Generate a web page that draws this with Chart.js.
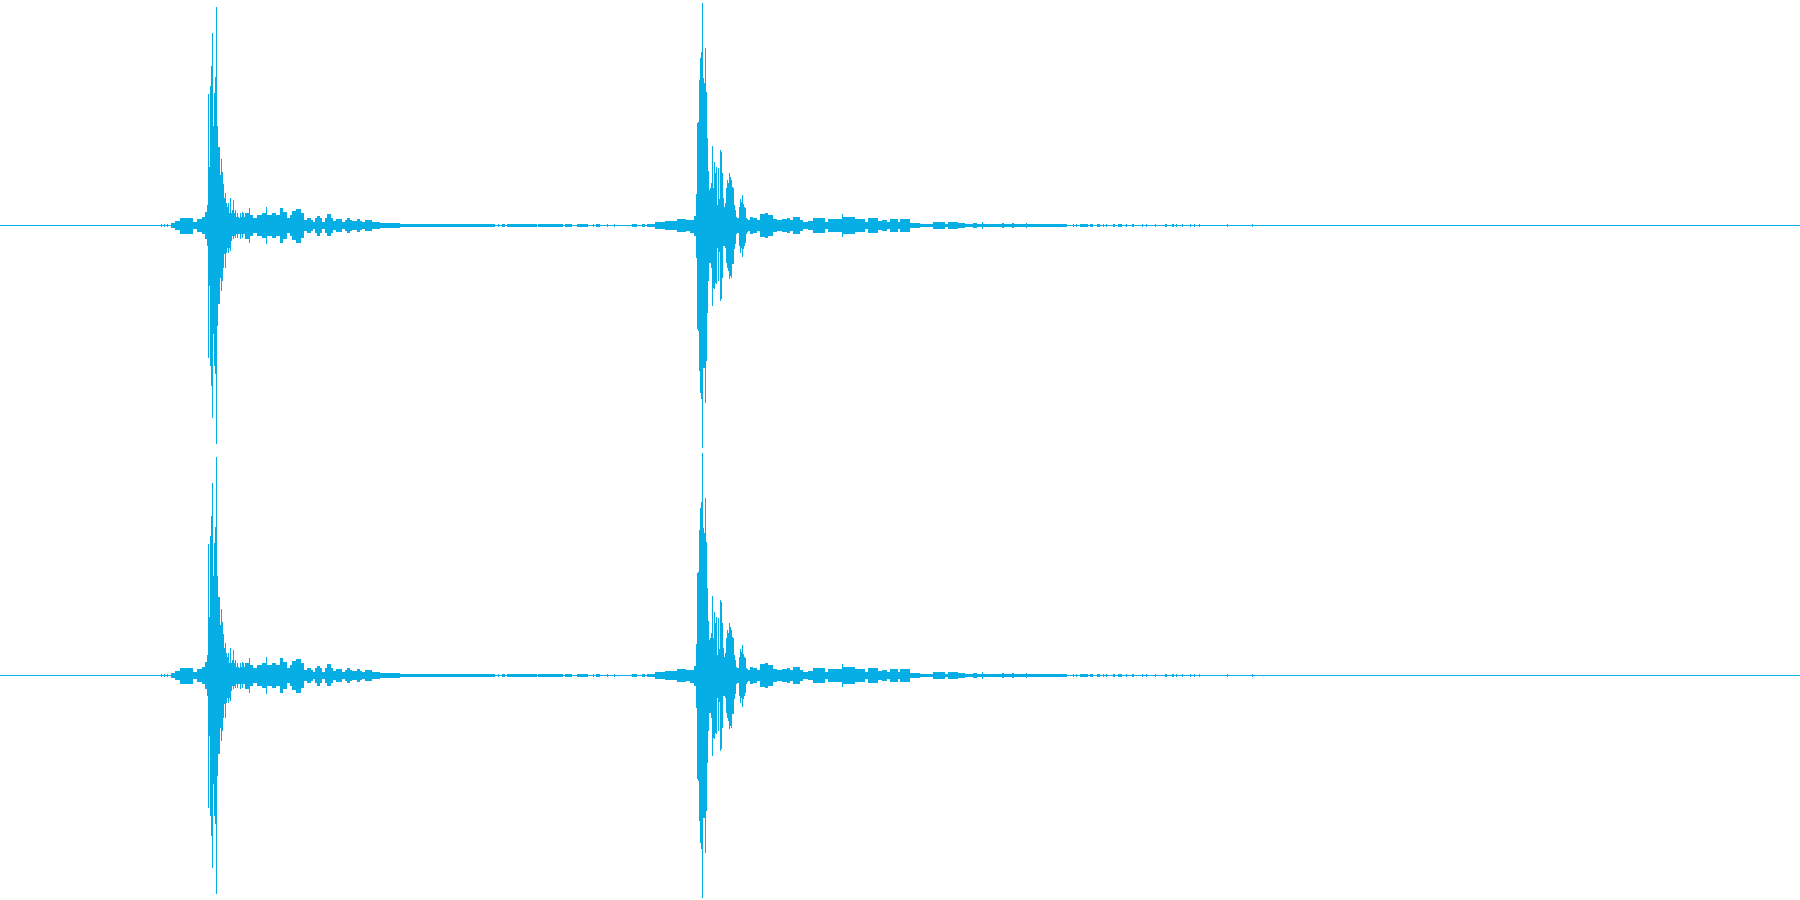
<!DOCTYPE html>
<html>
<head>
<meta charset="utf-8">
<script src="https://cdn.jsdelivr.net/npm/chart.js@4.4.1/dist/chart.umd.min.js"></script>
<style>
  html, body { margin: 0; padding: 0; background: #ffffff; }
  .channel { position: relative; width: 1800px; height: 450px; }
</style>
</head>
<body>
<div class="channel"><canvas id="chanLeft"></canvas></div>
<div class="channel"><canvas id="chanRight"></canvas></div>
<script>
// waveform envelope
// blockX = where a level starts (it holds until the next blockX)
// peakHi / peakLo = positive / negative peak, % of full scale
const blockX = [
  0, 161, 162, 164, 165, 167, 168, 171, 175, 180, 193, 197, 202, 205, 207,
  208, 209, 210, 211, 212, 213, 214, 215, 216, 217, 218, 219, 220, 221,
  222, 223, 224, 225, 226, 227, 228, 229, 230, 231, 232, 233, 234, 235,
  236, 237, 238, 239, 240, 241, 242, 243, 244, 245, 249, 250, 253, 257,
  262, 266, 267, 272, 276, 280, 283, 287, 290, 292, 296, 301, 304, 307,
  311, 313, 315, 317, 320, 322, 325, 327, 331, 333, 336, 342, 345, 347,
  350, 352, 357, 360, 362, 365, 372, 380, 400,
  440, 495, 498, 499, 502, 505, 507, 537, 538, 563, 565, 572, 577, 588,
  593, 594, 596, 600, 607, 608, 614, 615, 632, 637, 642, 645, 647, 655,
  665, 677, 686, 690, 694, 696,
  697, 698, 699, 700, 701, 702, 703, 704, 705, 706, 707, 708, 709, 710,
  711, 712, 713, 714, 715, 716, 717, 718, 719, 720, 721, 722, 723, 724,
  725, 726, 727, 728, 729, 730, 731, 732, 733, 734, 735, 736, 737, 739,
  740, 741, 742, 743, 744, 745, 746, 747, 748, 750, 753, 757, 760, 765,
  768, 773, 777, 782, 787, 790, 793, 800, 803, 808, 813, 825, 828, 842,
  843, 855, 865, 868, 878, 882, 887, 890, 898, 900, 910, 920, 933, 945,
  948, 958, 965, 973, 977, 982, 983, 1002, 1004, 1012, 1014, 1026, 1027,
  1067, 1073, 1074, 1076, 1077, 1080, 1088, 1090, 1093, 1097, 1100, 1103,
  1104, 1106, 1107, 1113, 1115, 1118, 1122, 1126, 1127, 1132, 1134, 1142,
  1143, 1146, 1147, 1155, 1156, 1165, 1167, 1172, 1174, 1176, 1177, 1182,
  1183, 1190, 1191, 1194, 1195, 1199, 1200, 1227, 1228, 1252, 1253, 1800
];
const peakHi = [
  0, 0.7, 0, 0.7, 0, 0.7, 0, 1.1, 2.0, 3.3, 1.6, 2.9, 3.8, 6.0, 9.1,
  58.6, 26.1, 62.1, 71.0, 85.7, 44.3, 59.0, 66.1, 97.3, 44.3, 35.0, 35.0, 22.5, 29.6,
  23.8, 18.5, 12.2, 14.5, 10.0, 8.2, 10.0, 5.6, 12.2, 5.6, 6.9, 11.4, 5.6, 6.9,
  3.8, 5.6, 3.8, 3.3, 5.6, 3.8, 6.0, 5.6, 3.8, 5.6, 7.8, 4.7, 3.3, 4.7,
  5.6, 8.2, 4.7, 5.6, 4.7, 7.8, 6.0, 3.3, 4.7, 6.5, 7.3, 5.6, 2.4, 3.3,
  2.4, 1.6, 3.3, 4.2, 3.3, 1.6, 3.3, 5.1, 3.3, 2.0, 2.9, 1.6, 2.4, 3.3,
  2.4, 2.0, 2.9, 2.0, 1.6, 2.4, 1.6, 1.1, 0.7,
  0.7, 0, 0.7, 0, 0.7, 0, 0.7, 0, 0.7, 0, 0.7, 0, 0.7, 0,
  0.7, 0, 0.7, 0, 0.7, 0, 0.7, 0, 0.7, 0, 0.7, 0, 0.7, 1.6,
  2.0, 2.9, 2.4, 2.4, 4.2, 14.0,
  45.7, 46.1, 64.8, 74.6, 77.3, 99.1, 65.7, 63.5, 79.1, 59.5, 39.0, 24.3, 15.8, 16.7,
  18.9, 35.4, 16.7, 28.3, 23.4, 26.1, 9.1, 25.6, 11.8, 33.6, 32.7, 23.4, 12.2, 8.2,
  10.0, 16.7, 20.3, 18.9, 23.4, 21.6, 20.3, 17.1, 16.7, 9.1, 6.9, 3.8, 3.3, 8.2,
  11.8, 10.5, 13.6, 9.6, 8.2, 7.8, 3.3, 2.9, 2.4, 3.8, 3.3, 2.4, 5.1, 5.6,
  4.7, 2.9, 2.4, 2.9, 3.3, 2.4, 3.8, 2.4, 1.6, 2.0, 3.3, 1.6, 2.9, 5.1,
  3.8, 2.9, 1.6, 3.3, 2.0, 2.4, 1.6, 2.9, 1.6, 2.9, 1.1, 0.7, 1.6, 0.7,
  1.6, 1.1, 0.7, 1.1, 0.7, 1.6, 0.7, 1.1, 0.7, 1.1, 0.7, 1.1, 0.7,
  0, 0.7, 0, 0.7, 0, 0.7, 0, 0.7, 0, 0.7, 0, 0.7,
  0, 0.7, 0, 0.7, 0, 0.7, 0, 0.7, 0, 0.7, 0, 0.7,
  0, 0.7, 0, 0.7, 0, 0.7, 0, 0.7, 0, 0.7, 0, 0.7,
  0, 0.7, 0, 0.7, 0, 0.7, 0, 0.7, 0, 0.7, 0, 0
];
const peakLo = [
  0, 0.7, 0, 0.7, 0, 0.7, 0, 1.1, 2.0, 3.8, 1.6, 2.9, 3.8, 6.0, 9.1,
  59.0, 26.9, 62.6, 71.5, 85.7, 48.3, 62.6, 66.1, 97.3, 44.8, 35.0, 35.0, 23.4, 29.2,
  24.7, 18.9, 12.7, 18.9, 12.2, 10.0, 12.2, 10.0, 11.4, 6.9, 4.7, 6.0, 4.7, 5.6,
  3.8, 5.6, 3.8, 3.8, 6.0, 3.8, 5.6, 3.8, 3.8, 6.0, 7.8, 4.7, 3.3, 4.7,
  5.6, 8.2, 4.7, 5.6, 4.7, 7.8, 6.0, 3.3, 4.7, 6.5, 7.8, 5.6, 2.4, 3.3,
  2.4, 1.6, 3.3, 4.7, 3.3, 1.6, 3.3, 4.7, 3.3, 2.0, 2.9, 1.6, 2.4, 3.3,
  2.4, 2.0, 2.9, 2.0, 1.6, 2.4, 1.6, 1.1, 0.7,
  0.7, 0, 0.7, 0, 0.7, 0, 0.7, 0, 0.7, 0, 0.7, 0, 0.7, 0,
  0.7, 0, 0.7, 0, 0.7, 0, 0.7, 0, 0.7, 0, 0.7, 0, 0.7, 1.6,
  2.0, 2.9, 2.4, 3.3, 4.7, 14.5,
  46.1, 47.0, 64.8, 74.6, 77.3, 99.1, 63.5, 63.5, 79.1, 60.4, 39.0, 24.7, 16.7, 16.7,
  18.9, 35.9, 27.8, 28.3, 25.6, 26.1, 10.0, 24.7, 11.8, 33.6, 32.7, 23.4, 9.1, 9.1,
  10.0, 16.7, 18.9, 20.3, 23.8, 22.5, 23.4, 17.1, 17.1, 10.5, 8.2, 3.8, 3.3, 9.1,
  12.2, 10.0, 14.0, 10.5, 9.1, 7.8, 3.8, 2.9, 2.4, 3.8, 3.3, 2.4, 5.1, 5.6,
  4.7, 2.9, 2.4, 2.9, 3.3, 2.4, 3.8, 2.4, 1.6, 2.0, 3.3, 1.6, 2.9, 5.1,
  3.8, 2.9, 1.6, 3.3, 2.0, 2.4, 1.6, 2.9, 1.6, 2.9, 1.1, 0.7, 1.6, 0.7,
  1.6, 1.1, 0.7, 1.1, 0.7, 1.6, 0.7, 1.1, 0.7, 1.1, 0.7, 1.1, 0.7,
  0, 0.7, 0, 0.7, 0, 0.7, 0, 0.7, 0, 0.7, 0, 0.7,
  0, 0.7, 0, 0.7, 0, 0.7, 0, 0.7, 0, 0.7, 0, 0.7,
  0, 0.7, 0, 0.7, 0, 0.7, 0, 0.7, 0, 0.7, 0, 0.7,
  0, 0.7, 0, 0.7, 0, 0.7, 0, 0.7, 0, 0.7, 0, 0
];
// both channels look the same in the picture
const channelIds = ['chanLeft', 'chanRight'];

const WAVE_COLOR = '#05aee4';

function makeChannel(canvasId) {
  const hi = blockX.map((x, i) => ({ x, y: peakHi[i] }));
  const lo = blockX.map((x, i) => ({ x, y: -peakLo[i] }));
  const zero = [{ x: 0, y: 0 }, { x: 1800, y: 0 }];

  const common = {
    stepped: 'before',
    borderWidth: 0,
    pointRadius: 0,
    backgroundColor: WAVE_COLOR,
    borderColor: WAVE_COLOR,
    fill: 'origin'
  };

  return new Chart(document.getElementById(canvasId), {
    type: 'line',
    data: {
      datasets: [
        Object.assign({ label: 'peak +', data: hi }, common),
        Object.assign({ label: 'peak -', data: lo }, common),
        { label: 'zero', data: zero, borderColor: WAVE_COLOR, borderWidth: 1,
          pointRadius: 0, fill: false }
      ]
    },
    options: {
      responsive: true,
      maintainAspectRatio: false,
      animation: false,
      events: [],
      layout: { padding: 0 },
      plugins: { legend: { display: false }, tooltip: { enabled: false } },
      scales: {
        x: { type: 'linear', min: 0, max: 1800, display: false },
        y: { min: -100, max: 100.445, display: false }
      }
    }
  });
}

channelIds.forEach(makeChannel);
</script>
</body>
</html>
